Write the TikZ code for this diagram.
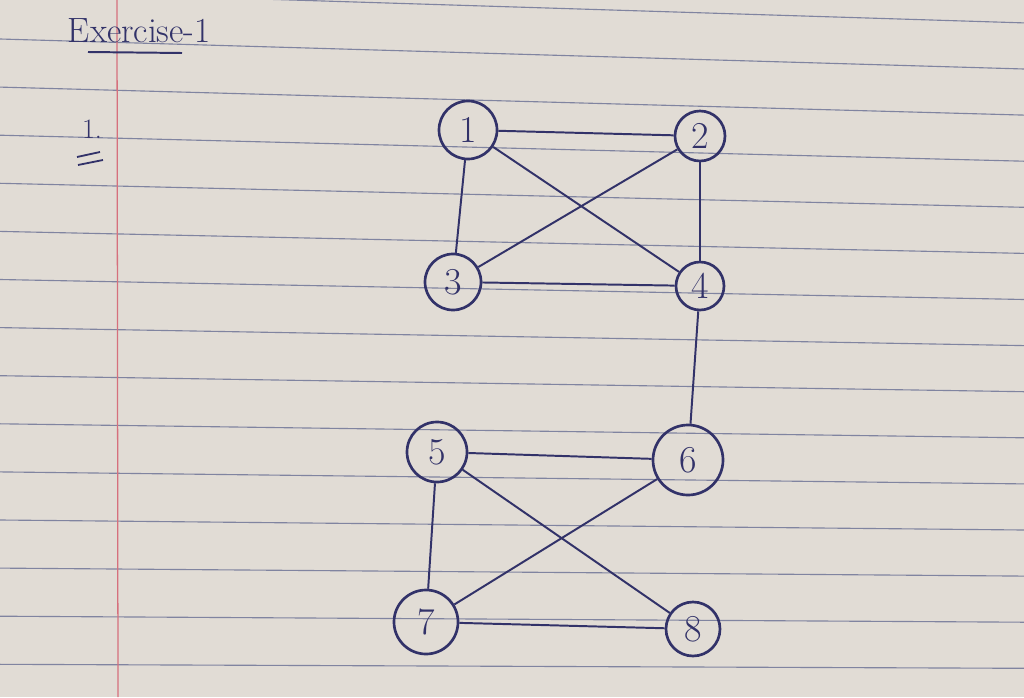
\documentclass[tikz,border=0pt]{standalone}
\usepackage{tikz}
\usetikzlibrary{positioning}
\definecolor{paper}{RGB}{225,220,213}
\definecolor{rule}{RGB}{128,132,160}
\definecolor{margin}{RGB}{214,112,125}
\definecolor{ink}{RGB}{50,50,105}

\begin{document}
\begin{tikzpicture}[x=0.025cm,y=-0.025cm]
	\tikzstyle{vertex} = [circle, draw=ink, line width=1.9pt, text=ink, inner sep=0pt, font=\fontsize{27}{30}\selectfont]
	\tikzstyle{edge} = [draw=ink, line width=1.4pt]
	\tikzstyle{ruling} = [draw=rule, line width=0.8pt]

	% Paper sheet
	\useasboundingbox (0,0) rectangle (1024,697);
	\fill[paper] (0,0) rectangle (1024,697);
	\foreach \k in {-1,...,13}
	\draw[ruling] (0,39+48.1*\k) -- (1024,69+46.1*\k);
	\draw[margin, line width=0.9pt] (117,0) -- (118,697);

	% Heading
	\node[text=ink, font=\fontsize{25}{28}\selectfont, anchor=west] (title) at (63,31) {Exercise-1};
	\draw[ink, line width=1.4pt] (88,52) -- (182,53);
	\node[text=ink, font=\fontsize{20}{24}\selectfont] (item) at (92,129) {1.};
	\draw[ink, line width=1.3pt] (77,157) -- (100,152);
	\draw[ink, line width=1.3pt] (78,165) -- (103,160);

	% Vertices
	\node[vertex, minimum size=1.45cm] (v1) at (468,130) {1};
	\node[vertex, minimum size=1.25cm] (v2) at (700,136) {2};
	\node[vertex, minimum size=1.4cm] (v3) at (453,282) {3};
	\node[vertex, minimum size=1.2cm] (v4) at (700,286) {4};
	\node[vertex, minimum size=1.5cm] (v5) at (437,452) {5};
	\node[vertex, minimum size=1.75cm] (v6) at (688,460) {6};
	\node[vertex, minimum size=1.6cm] (v7) at (426,622) {7};
	\node[vertex, minimum size=1.35cm] (v8) at (693,629) {8};

	% Edges
	\foreach \a/\b in {v1/v2, v1/v3, v1/v4, v2/v3, v2/v4, v3/v4, v4/v6, v5/v6, v5/v7, v5/v8, v6/v7, v7/v8}
	\draw[edge] (\a) -- (\b);
\end{tikzpicture}
\end{document}
